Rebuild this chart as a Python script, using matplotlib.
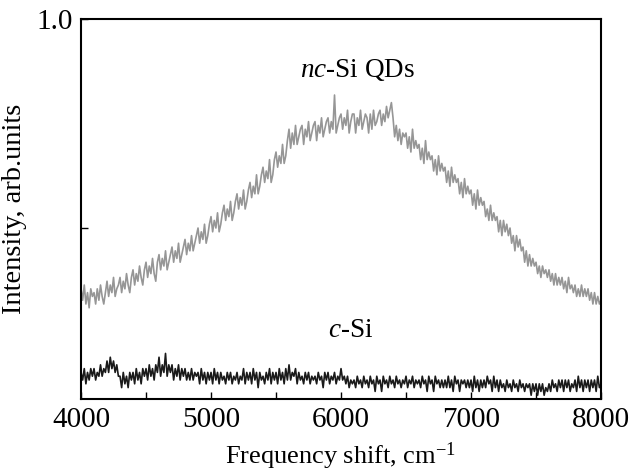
import numpy as np
import matplotlib
matplotlib.use("Agg")
import matplotlib.pyplot as plt
from matplotlib.ticker import MultipleLocator

plt.rcParams['font.family'] = ['Liberation Serif', 'DejaVu Serif']
plt.rcParams['mathtext.fontset'] = 'custom'
plt.rcParams['mathtext.rm'] = 'Liberation Serif'
plt.rcParams['mathtext.it'] = 'Liberation Serif:italic'

# frequency shift, cm^-1 (step 12.5)
freq = np.arange(4000, 8000.1, 12.5)

# nc-Si QDs spectrum (gray), one row per 100 cm^-1
nc_si = [
    0.29, 0.26, 0.30, 0.25, 0.28, 0.24, 0.29, 0.27,
    0.28, 0.25, 0.29, 0.26, 0.30, 0.27, 0.25, 0.28,
    0.31, 0.27, 0.30, 0.28, 0.32, 0.27, 0.29, 0.30,
    0.32, 0.28, 0.31, 0.29, 0.33, 0.30, 0.28, 0.32,
    0.34, 0.30, 0.33, 0.31, 0.35, 0.32, 0.30, 0.34,
    0.36, 0.32, 0.35, 0.33, 0.37, 0.33, 0.31, 0.36,
    0.38, 0.34, 0.37, 0.35, 0.39, 0.34, 0.36, 0.38,
    0.40, 0.36, 0.39, 0.37, 0.41, 0.36, 0.38, 0.40,
    0.42, 0.38, 0.41, 0.39, 0.43, 0.39, 0.41, 0.43,
    0.45, 0.41, 0.44, 0.42, 0.46, 0.41, 0.43, 0.46,
    0.48, 0.44, 0.47, 0.45, 0.49, 0.44, 0.46, 0.49,
    0.51, 0.47, 0.50, 0.48, 0.52, 0.47, 0.49, 0.52,
    0.54, 0.50, 0.53, 0.51, 0.55, 0.50, 0.52, 0.55,
    0.57, 0.53, 0.56, 0.54, 0.59, 0.54, 0.56, 0.59,
    0.61, 0.57, 0.60, 0.58, 0.63, 0.57, 0.59, 0.63,
    0.65, 0.61, 0.64, 0.62, 0.67, 0.62, 0.64, 0.68,
    0.71, 0.66, 0.70, 0.67, 0.72, 0.67, 0.69, 0.71,
    0.72, 0.67, 0.71, 0.69, 0.73, 0.68, 0.70, 0.72,
    0.73, 0.68, 0.72, 0.70, 0.74, 0.69, 0.71, 0.73,
    0.74, 0.70, 0.73, 0.71, 0.80, 0.70, 0.72, 0.74,
    0.75, 0.71, 0.74, 0.72, 0.76, 0.70, 0.73, 0.75,
    0.75, 0.70, 0.74, 0.72, 0.76, 0.71, 0.73, 0.75,
    0.74, 0.70, 0.75, 0.71, 0.76, 0.72, 0.73, 0.75,
    0.76, 0.72, 0.75, 0.73, 0.77, 0.74, 0.76, 0.78,
    0.74, 0.69, 0.72, 0.68, 0.71, 0.67, 0.70, 0.69,
    0.70, 0.66, 0.69, 0.65, 0.71, 0.66, 0.68, 0.66,
    0.67, 0.63, 0.66, 0.62, 0.68, 0.63, 0.65, 0.63,
    0.64, 0.60, 0.63, 0.59, 0.64, 0.60, 0.62, 0.60,
    0.61, 0.57, 0.60, 0.56, 0.61, 0.57, 0.59, 0.57,
    0.58, 0.54, 0.57, 0.53, 0.58, 0.54, 0.56, 0.54,
    0.55, 0.51, 0.54, 0.50, 0.55, 0.51, 0.53, 0.51,
    0.52, 0.48, 0.50, 0.47, 0.51, 0.47, 0.49, 0.47,
    0.48, 0.44, 0.47, 0.43, 0.47, 0.44, 0.46, 0.43,
    0.45, 0.41, 0.43, 0.39, 0.43, 0.40, 0.42, 0.39,
    0.40, 0.36, 0.39, 0.35, 0.38, 0.35, 0.37, 0.35,
    0.36, 0.33, 0.35, 0.32, 0.35, 0.33, 0.34, 0.32,
    0.34, 0.31, 0.33, 0.30, 0.33, 0.30, 0.32, 0.30,
    0.32, 0.29, 0.31, 0.28, 0.32, 0.29, 0.30, 0.28,
    0.30, 0.27, 0.29, 0.27, 0.30, 0.27, 0.29, 0.27,
    0.29, 0.26, 0.28, 0.25, 0.28, 0.25, 0.27, 0.25,
    0.26,
]

# c-Si spectrum (black), one row per 100 cm^-1
c_si = [
    0.07, 0.05, 0.08, 0.04, 0.07, 0.05, 0.08, 0.06,
    0.08, 0.05, 0.07, 0.06, 0.09, 0.06, 0.08, 0.07,
    0.10, 0.07, 0.11, 0.08, 0.10, 0.07, 0.09, 0.06,
    0.06, 0.03, 0.07, 0.04, 0.06, 0.03, 0.07, 0.05,
    0.07, 0.04, 0.08, 0.05, 0.07, 0.04, 0.08, 0.06,
    0.08, 0.05, 0.09, 0.06, 0.08, 0.05, 0.09, 0.07,
    0.11, 0.06, 0.09, 0.07, 0.12, 0.06, 0.09, 0.07,
    0.09, 0.05, 0.08, 0.06, 0.09, 0.05, 0.08, 0.06,
    0.08, 0.05, 0.07, 0.05, 0.08, 0.05, 0.07, 0.06,
    0.07, 0.04, 0.08, 0.05, 0.07, 0.04, 0.07, 0.05,
    0.07, 0.04, 0.08, 0.05, 0.07, 0.04, 0.07, 0.05,
    0.06, 0.04, 0.07, 0.05, 0.07, 0.04, 0.06, 0.05,
    0.07, 0.04, 0.06, 0.05, 0.08, 0.04, 0.07, 0.05,
    0.07, 0.04, 0.08, 0.05, 0.07, 0.03, 0.07, 0.05,
    0.06, 0.04, 0.07, 0.05, 0.08, 0.04, 0.07, 0.05,
    0.07, 0.04, 0.08, 0.05, 0.07, 0.04, 0.08, 0.05,
    0.09, 0.05, 0.07, 0.06, 0.08, 0.04, 0.07, 0.05,
    0.06, 0.04, 0.07, 0.05, 0.07, 0.04, 0.06, 0.05,
    0.06, 0.04, 0.07, 0.05, 0.06, 0.03, 0.07, 0.05,
    0.07, 0.04, 0.06, 0.05, 0.07, 0.04, 0.06, 0.05,
    0.08, 0.05, 0.06, 0.04, 0.06, 0.03, 0.05, 0.04,
    0.05, 0.03, 0.06, 0.04, 0.05, 0.03, 0.06, 0.04,
    0.05, 0.03, 0.06, 0.04, 0.05, 0.02, 0.06, 0.04,
    0.05, 0.02, 0.06, 0.04, 0.05, 0.03, 0.06, 0.04,
    0.05, 0.03, 0.06, 0.04, 0.05, 0.03, 0.05, 0.04,
    0.06, 0.03, 0.05, 0.04, 0.06, 0.03, 0.05, 0.04,
    0.05, 0.03, 0.06, 0.04, 0.05, 0.02, 0.06, 0.04,
    0.05, 0.02, 0.06, 0.04, 0.05, 0.03, 0.05, 0.03,
    0.05, 0.03, 0.06, 0.03, 0.05, 0.02, 0.06, 0.04,
    0.05, 0.02, 0.05, 0.04, 0.05, 0.03, 0.05, 0.03,
    0.05, 0.02, 0.06, 0.03, 0.05, 0.02, 0.05, 0.03,
    0.05, 0.03, 0.06, 0.04, 0.05, 0.02, 0.06, 0.03,
    0.05, 0.02, 0.05, 0.03, 0.04, 0.02, 0.05, 0.03,
    0.04, 0.02, 0.05, 0.03, 0.04, 0.02, 0.05, 0.03,
    0.04, 0.02, 0.04, 0.03, 0.04, 0.01, 0.04, 0.02,
    0.04, 0.01, 0.04, 0.02, 0.04, 0.01, 0.03, 0.02,
    0.04, 0.02, 0.05, 0.03, 0.04, 0.02, 0.05, 0.03,
    0.05, 0.02, 0.05, 0.03, 0.05, 0.02, 0.04, 0.03,
    0.05, 0.02, 0.06, 0.03, 0.05, 0.02, 0.05, 0.03,
    0.05, 0.02, 0.05, 0.03, 0.05, 0.02, 0.06, 0.03,
    0.04,
]

fig = plt.figure(figsize=(6.3, 4.73), dpi=100)
ax = fig.add_axes([0.1286, 0.1564, 0.8254, 0.8034])

ax.plot(freq, nc_si, color='#969696', lw=1.2)
ax.plot(freq, c_si, color='#1a1a1a', lw=1.2)

ax.set_xlim(4000, 8000)
ax.set_ylim(0, 1.0)
ax.xaxis.set_major_locator(MultipleLocator(1000))
ax.xaxis.set_minor_locator(MultipleLocator(500))
ax.set_yticks([0.45, 1.0])
ax.set_yticklabels(['', '1.0'])
ax.tick_params(which='both', direction='in', length=5, width=1.0, labelsize=21)
ax.tick_params(axis='x', pad=6)
ax.tick_params(axis='y', pad=6)
for s in ax.spines.values():
    s.set_linewidth(1.5)

ax.set_xlabel('Frequency shift, cm$^{-1}$', fontsize=19, labelpad=5)
ax.set_ylabel('Intensity, arb.units', fontsize=20.5, labelpad=7)

ax.text(6123, 0.866, r'$\it{nc}$-Si QDs', fontsize=19.5, ha='center', va='center')
ax.text(6070, 0.18, r'$\it{c}$-Si', fontsize=19.5, ha='center', va='center')

fig.savefig('out.png', dpi=100)
